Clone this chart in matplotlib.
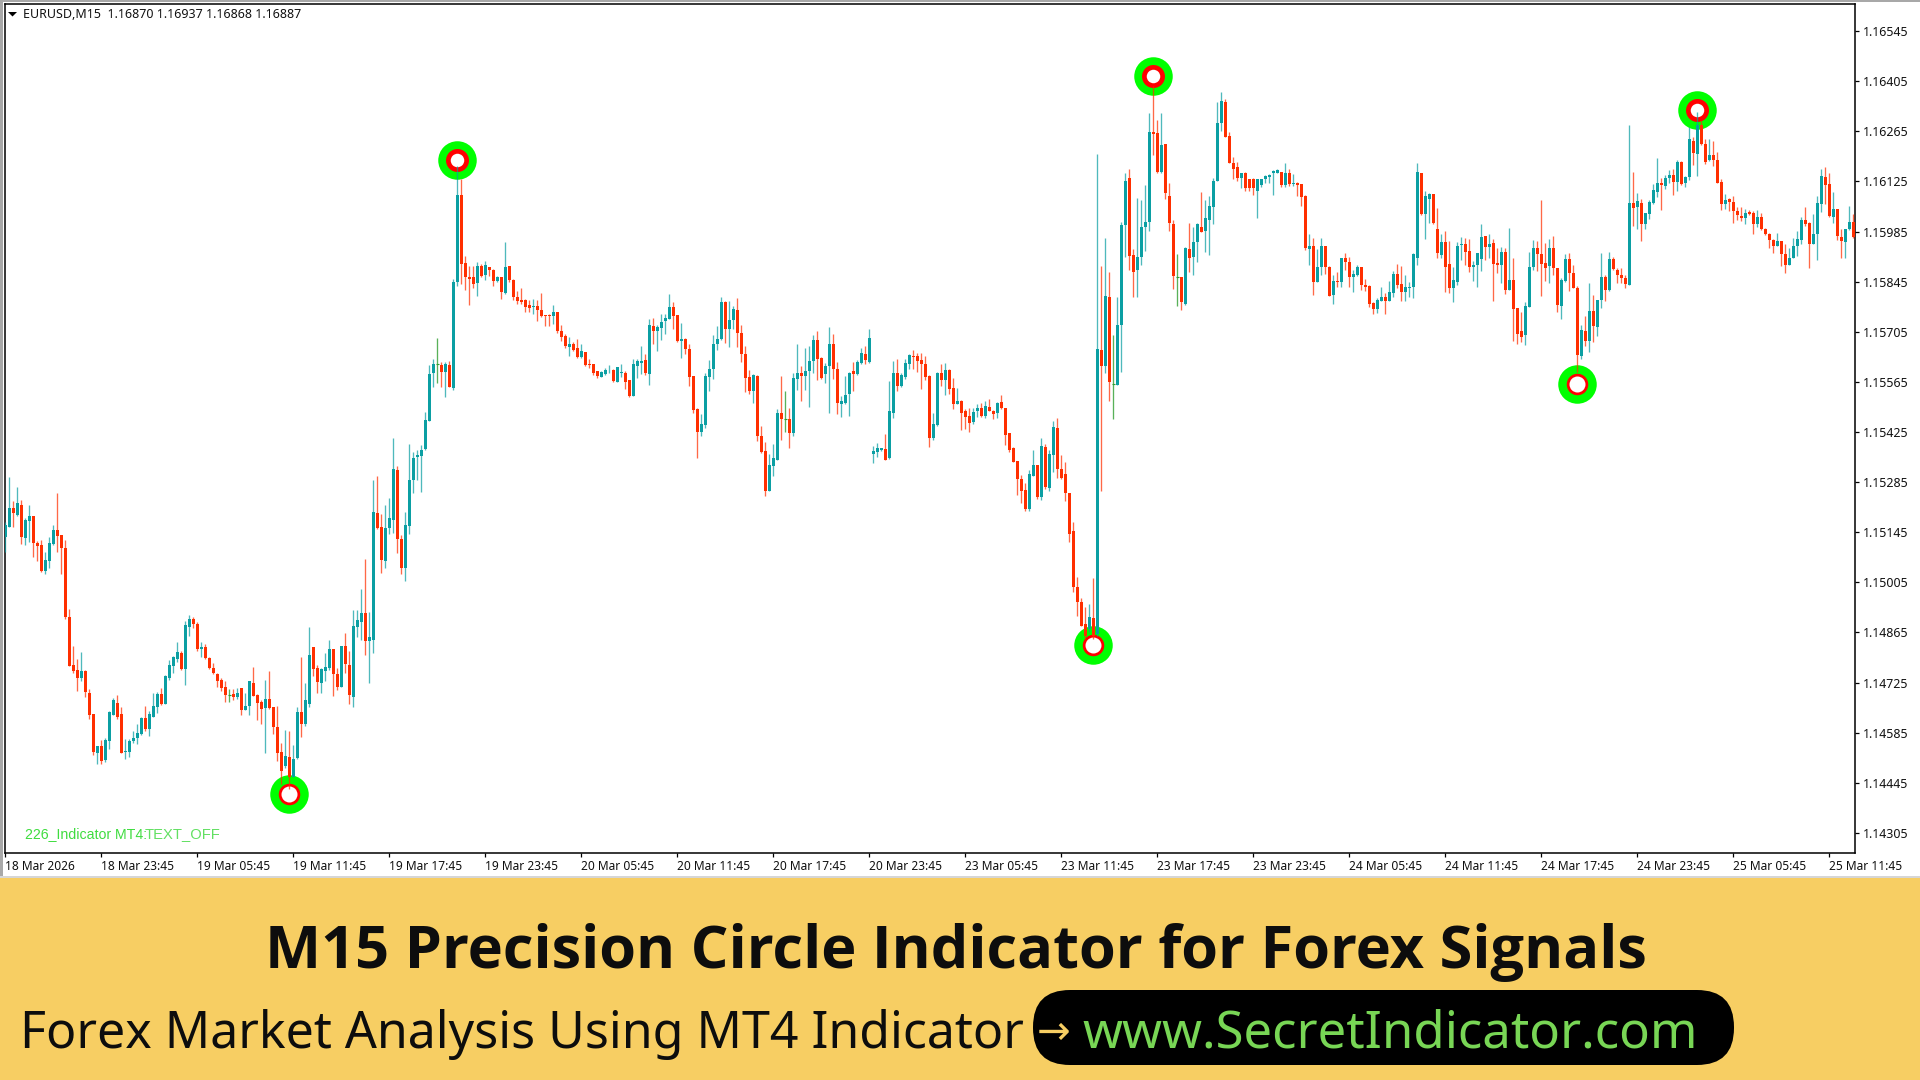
import numpy as np
import matplotlib
matplotlib.use('Agg')
import matplotlib.pyplot as plt
from matplotlib.patches import Rectangle, FancyBboxPatch, Polygon

# EURUSD M15 bars, prices in points (1e-5)
opens = [
    115131,115159,115214,115192,115221,115128,115176,115189,115116,115108,
    115038,115066,115113,115150,115136,115102,114908,114774,114760,114739,
    114758,114696,114637,114527,114547,114508,114562,114635,114668,114637,
    114532,114532,114561,114569,114582,114626,114596,114630,114658,114693,
    114666,114739,114772,114791,114808,114762,114881,114903,114889,114820,
    114824,114794,114767,114749,114732,114712,114689,114693,114686,114709,
    114649,114660,114725,114690,114672,114655,114679,114657,114602,114530,
    114493,114516,114460,114513,114642,114609,114665,
    114824,114766,114724,114757,114767,114819,114748,114714,114827,114775,
    114684,114880,114894,114920,114841,114845,115198,115160,115064,115157,
    115179,115318,115126,115045,115162,115290,115355,115359,115378,115457,
    115589,115614,115611,115593,115613,115548,115844,116087,115898,115859,
    115859,115840,115890,115863,115885,115878,115847,115857,115814,115888,
    115851,115801,115794,115794,115779,115774,115776,115766,115751,115751,
    115749,115759,115707,115693,115663,115671,115660,115635,115649,115615,
    115615,115595,115580,115588,115597,115599,115566,
    115590,115590,115569,115526,115610,115617,115627,115588,115722,115707,
    115716,115736,115742,115775,115751,115678,115686,115656,115581,115490,
    115425,115446,115579,115600,115670,115684,115789,115714,115737,115765,
    115702,115644,115579,115539,115582,115413,115371,115260,115331,115347,
    115478,115460,115461,115423,115573,115589,115582,115596,115624,115681,
    115632,115588,115610,115671,115600,115504,115507,115530,115595,115586,
    115619,115643,115621,115364,115369,115376,115377,115353,115479,115590,
    115554,115578,115616,115638,115638,115626,115616,115582,
    115407,115444,115590,115569,115598,115548,115504,115512,115483,115470,
    115453,115484,115491,115470,115496,115483,115477,115509,115492,115421,
    115379,115343,115294,115263,115211,115302,115332,115243,115383,115269,
    115360,115436,115322,115307,115255,115149,114993,114951,114889,114875,
    114906,114861,115655,115610,115802,115558,115557,115723,116003,116136,
    115919,115877,115913,115997,116013,116263,116261,116152,116229,116085,
    116005,115857,115857,115784,115936,115913,115955,115998,115986,116017,
    116054,116127,116287,116348,116253,116178,116166,116134,116148,116131,
    116131,116098,116115,116131,116137,116148,116150,116152,116115,
    116150,116119,116121,116117,116085,115935,115945,115843,115885,115945,
    115886,115807,115846,115844,115912,115899,115859,115863,115886,115835,
    115833,115786,115770,115792,115802,115792,115813,115867,115839,115815,
    115826,115829,115910,116149,116033,116077,116089,115993,115919,115956,
    115895,115826,115843,115947,115951,115931,115887,115893,115908,115973,
    115941,115953,115898,115891,115928,115821,115849,115772,115707,115695,
    115775,115886,115940,115921,115896,115889,
    115939,115883,115776,115846,115908,115869,115828,115636,115708,115678,
    115763,115719,115794,115858,115821,115909,115878,115863,115855,115837,
    116065,116053,116065,116006,116034,116066,116095,116121,116112,116135,
    116143,116124,116180,116120,116137,116238,116202,116282,116230,116184,
    116198,116185,116124,116061,116076,116068,116043,116029,116024,116040,
    116037,116005,116026,115993,115979,115961,115946,115959,115922,115893,
    115911,115944,115961,116017,116009,115951,115979,116063,116138,116118,
    116025,116047,115970,115957,115991,116011,
]
highs = [
    115175,115299,115233,115271,115236,115184,115222,115189,115121,115122,
    115091,115132,115166,115254,115137,115122,114931,114828,114791,114811,
    114760,114707,114637,114548,114565,114571,114645,114683,114690,114657,
    114567,114567,114590,114608,114630,114659,114646,114696,114698,114710,
    114747,114789,114800,114839,114814,114898,114915,114907,114895,114837,
    114834,114797,114780,114752,114737,114729,114707,114707,114711,114711,
    114696,114729,114769,114692,114676,114733,114756,114658,114660,114556,
    114592,114590,114550,114658,114797,114724,114881,
    114824,114773,114765,114809,114845,114820,114765,114827,114863,114814,
    114927,114927,114986,115069,114923,115292,115303,115195,115221,115240,
    115407,115331,115137,115202,115392,115369,115376,115389,115481,115613,
    115630,115687,115621,115622,115624,115852,116167,116133,115918,115889,
    115889,115901,115895,115904,115887,115880,115861,115857,115956,115890,
    115852,115820,115826,115796,115794,115796,115794,115813,115751,115754,
    115779,115760,115725,115698,115691,115677,115684,115670,115649,115630,
    115616,115596,115596,115605,115611,115602,115607,
    115614,115596,115571,115628,115628,115666,115642,115740,115744,115724,
    115755,115756,115812,115787,115753,115730,115688,115672,115582,115492,
    115474,115590,115627,115697,115722,115803,115791,115792,115778,115800,
    115725,115664,115599,115588,115584,115441,115397,115363,115392,115488,
    115582,115540,115492,115590,115670,115610,115660,115666,115697,115708,
    115635,115619,115719,115700,115621,115526,115582,115593,115621,115626,
    115660,115666,115712,115385,115394,115381,115420,115568,115623,115629,
    115590,115628,115644,115653,115647,115647,115638,115584,
    115477,115593,115614,115618,115600,115576,115548,115514,115488,115492,
    115492,115502,115507,115513,115518,115487,115509,115529,115492,115423,
    115383,115343,115306,115283,115320,115375,115332,115407,115391,115375,
    115455,115464,115360,115341,115256,115174,115020,114962,114936,114945,
    115018,116201,115890,115966,115873,115695,115801,116013,116148,116159,
    115936,116080,116072,116114,116315,116391,116296,116315,116229,116122,
    116017,115923,115857,115941,116010,115999,116010,116096,116072,116085,
    116135,116348,116376,116355,116264,116194,116180,116150,116152,116133,
    116135,116133,116133,116143,116146,116157,116160,116152,116178,
    116161,116145,116124,116119,116087,115977,115966,115935,115966,115945,
    115888,115865,115871,115912,115926,115914,115878,115893,115886,115852,
    115835,115789,115800,115830,115814,115846,115876,115895,115889,115865,
    115844,115926,116178,116150,116099,116092,116089,116050,115977,115988,
    115958,115886,115956,115969,115966,115963,115904,115926,116007,115973,
    115977,115963,115940,115941,115940,115995,115910,115772,115759,115787,
    115928,115962,115958,116072,115954,115964,
    115973,115884,115855,115923,115925,115893,115833,115725,115749,115842,
    115807,115794,115925,115863,115928,115914,115882,115883,115865,116284,
    116152,116094,116075,116038,116073,116117,116191,116135,116143,116157,
    116161,116184,116182,116141,116278,116250,116320,116294,116245,116245,
    116238,116206,116131,116090,116079,116085,116054,116054,116049,116046,
    116042,116044,116037,115995,115981,115963,115982,115959,115949,115939,
    115967,115986,116026,116054,116012,116035,116085,116161,116166,116150,
    116096,116049,115991,115993,116057,116035,
]
lows = [
    115091,115159,115159,115189,115112,115110,115117,115077,115066,115033,
    115027,115044,115110,115089,115029,114903,114770,114752,114702,114730,
    114685,114623,114522,114497,114497,114502,114539,114634,114623,114527,
    114511,114516,114556,114553,114579,114589,114576,114628,114640,114662,
    114666,114733,114752,114783,114761,114718,114856,114878,114814,114796,
    114791,114763,114748,114712,114702,114670,114671,114677,114679,114634,
    114649,114634,114688,114621,114609,114528,114651,114581,114507,114441,
    114486,114427,114460,114511,114572,114604,114656,
    114742,114695,114695,114729,114760,114688,114704,114712,114753,114665,
    114658,114852,114845,114803,114724,114809,115154,115031,115044,115141,
    115143,115087,115029,115010,115141,115255,115290,115257,115376,115456,
    115550,115561,115550,115523,115551,115542,115834,115839,115822,115781,
    115828,115805,115859,115850,115861,115832,115844,115797,115812,115845,
    115795,115783,115783,115760,115760,115756,115736,115747,115722,115720,
    115727,115702,115678,115660,115638,115652,115631,115631,115609,115604,
    115585,115577,115578,115584,115590,115564,115565,
    115579,115546,115524,115526,115576,115587,115584,115557,115672,115652,
    115681,115699,115740,115714,115677,115632,115642,115554,115479,115353,
    115413,115435,115540,115574,115654,115682,115674,115663,115712,115662,
    115621,115537,115532,115506,115399,115366,115246,115260,115302,115347,
    115403,115425,115381,115414,115543,115512,115543,115496,115591,115570,
    115574,115563,115478,115574,115476,115467,115504,115470,115539,115584,
    115614,115614,115617,115339,115355,115372,115346,115351,115463,115541,
    115551,115574,115600,115602,115593,115546,115570,115383,
    115402,115442,115554,115528,115530,115490,115504,115430,115433,115425,
    115448,115468,115467,115464,115483,115461,115464,115489,115390,115369,
    115340,115248,115228,115203,115204,115302,115239,115234,115267,115260,
    115313,115297,115293,115232,115118,114979,114911,114883,114847,114866,
    114847,114855,115261,115591,115513,115462,115557,115594,115915,115877,
    115803,115803,115891,115930,115986,116199,116150,116148,116076,115986,
    115824,115776,115765,115781,115873,115865,115901,115983,115929,115919,
    116005,116127,116266,116250,116176,116131,116126,116106,116098,116098,
    116087,116024,116110,116122,116122,116087,116150,116110,116110,
    116112,116113,116085,116057,115934,115893,115809,115843,115865,115867,
    115804,115784,115829,115831,115878,115830,115815,115861,115822,115820,
    115774,115755,115757,115790,115755,115791,115802,115826,115790,115790,
    115802,115800,115893,116031,115963,116009,116005,115910,115912,115816,
    115814,115787,115837,115907,115893,115871,115846,115830,115876,115905,
    115912,115790,115868,115841,115812,115821,115680,115672,115677,115667,
    115775,115877,115875,115805,115846,115840,
    115865,115759,115742,115844,115818,115826,115593,115628,115665,115649,
    115677,115693,115772,115790,115819,115877,115840,115842,115828,115837,
    116001,115993,115960,115993,116019,116062,116081,116045,116103,116122,
    116087,116098,116116,116110,116128,116170,116141,116228,116175,116182,
    116169,116120,116045,116047,116042,116010,116017,116015,116005,116031,
    115979,115997,115989,115975,115939,115924,115945,115889,115870,115891,
    115910,115917,115951,116001,115884,115951,115906,116040,116063,116025,
    116010,115961,115912,115912,115990,115968,
]
closes = [
    115165,115214,115198,115228,115131,115178,115189,115115,115106,115038,
    115068,115116,115152,115134,115100,114909,114772,114758,114739,114757,
    114698,114635,114530,114547,114507,114564,114643,114676,114628,114529,
    114533,114561,114569,114584,114627,114595,114637,114659,114693,114666,
    114743,114774,114797,114810,114762,114886,114903,114890,114819,114824,
    114793,114765,114751,114728,114711,114691,114689,114685,114696,114649,
    114659,114729,114688,114668,114652,114679,114653,114602,114527,114479,
    114519,114460,114511,114642,114610,114676,114802,
    114762,114726,114762,114769,114820,114749,114714,114827,114776,114691,
    114882,114901,114918,114842,114852,115201,115157,115067,115158,115186,
    115322,115127,115045,115164,115290,115352,115360,115376,115458,115588,
    115614,115614,115593,115616,115551,115844,116087,115895,115859,115853,
    115839,115890,115861,115892,115879,115848,115858,115816,115887,115850,
    115801,115791,115788,115775,115772,115776,115766,115749,115750,115750,
    115759,115707,115691,115664,115670,115655,115634,115651,115613,115613,
    115589,115581,115593,115598,115599,115568,115606,
    115592,115565,115526,115614,115623,115623,115589,115724,115707,115719,
    115733,115744,115775,115749,115679,115685,115658,115579,115486,115425,
    115447,115582,115600,115671,115685,115789,115714,115738,115768,115702,
    115644,115577,115539,115583,115413,115369,115260,115332,115353,115478,
    115460,115460,115423,115576,115590,115582,115595,115624,115683,115628,
    115576,115610,115671,115600,115506,115511,115529,115590,115586,115621,
    115646,115627,115688,115372,115381,115381,115348,115483,115590,115553,
    115585,115618,115641,115635,115623,115615,115578,115409,
    115447,115590,115569,115599,115545,115504,115513,115479,115467,115451,
    115481,115492,115470,115498,115485,115474,115507,115492,115418,115374,
    115341,115294,115261,115211,115308,115332,115244,115386,115271,115363,
    115439,115323,115297,115256,115141,114992,114950,114884,114856,114909,
    114856,115656,115610,115806,115566,115558,115723,116002,116126,115918,
    115873,115913,115999,116013,116264,116257,116152,116227,116094,116008,
    115861,115857,115789,115938,115910,115955,116006,115983,116022,116057,
    116127,116287,116351,116250,116176,116161,116134,116148,116106,116106,
    116106,116131,116131,116140,116143,116154,116157,116115,116149,
    116119,116121,116115,116081,115938,115945,115843,115886,115945,115885,
    115805,115847,115844,115910,115899,115859,115866,115886,115837,115831,
    115784,115770,115794,115802,115792,115816,115866,115837,115816,115830,
    115830,115921,116152,116033,116085,116089,116008,115924,115956,115885,
    115826,115850,115945,115951,115929,115887,115893,115924,115971,115941,
    115951,115894,115891,115928,115821,115849,115770,115700,115691,115777,
    115886,115940,115922,115894,115884,115940,
    115882,115779,115850,115909,115869,115828,115639,115710,115680,115763,
    115720,115794,115858,115823,115909,115880,115863,115856,115838,116065,
    116051,116071,116007,116036,116068,116102,116121,116114,116135,116143,
    116124,116180,116118,116138,116243,116204,116282,116231,116180,116198,
    116184,116120,116061,116074,116068,116042,116031,116024,116037,116035,
    116006,116026,115992,115977,115961,115946,115958,115922,115893,115911,
    115945,115965,116018,116006,115951,115977,116065,116141,116116,116028,
    116047,115972,115960,115992,116012,115971,
]

# circles from the indicator
sell_bars = [113, 287, 423]
sell_prices = [1.16184, 1.16420, 1.16325]
buy_bars = [71, 272, 393]
buy_prices = [1.14414, 1.14830, 1.15558]

price_ticks = [1.14305, 1.14445, 1.14585, 1.14725, 1.14865, 1.15005, 1.15145, 1.15285, 1.15425,
               1.15565, 1.15705, 1.15845, 1.15985, 1.16125, 1.16265, 1.16405, 1.16545]
time_labels = ['18 Mar 2026', '18 Mar 23:45', '19 Mar 05:45', '19 Mar 11:45', '19 Mar 17:45',
               '19 Mar 23:45', '20 Mar 05:45', '20 Mar 11:45', '20 Mar 17:45', '20 Mar 23:45',
               '23 Mar 05:45', '23 Mar 11:45', '23 Mar 17:45', '23 Mar 23:45', '24 Mar 05:45',
               '24 Mar 11:45', '24 Mar 17:45', '24 Mar 23:45', '25 Mar 05:45', '25 Mar 11:45']
bars_per_label = 24

title = 'M15 Precision Circle Indicator for Forex Signals'
subtitle = 'Forex Market Analysis Using MT4 Indicator'
site = 'www.SecretIndicator.com'
header = 'EURUSD,M15  1.16870 1.16937 1.16868 1.16887'

UP = '#0b9fa3'
DOWN = '#ff2f00'
DOJI = '#2f9e2f'
BAND = '#f7ce63'

plt.rcParams['font.family'] = ['Noto Sans', 'DejaVu Sans']

W, H = 1920, 1080
fig = plt.figure(figsize=(W / 100, H / 100), dpi=100, facecolor='white')

# page in pixel coords for the frame and the banner
page = fig.add_axes([0, 0, 1, 1], zorder=0)
page.set_xlim(0, W)
page.set_ylim(H, 0)
page.axis('off')
page.add_patch(Rectangle((0, 0), W, 2, color='#a8a8a8', lw=0))
page.add_patch(Rectangle((0, 0), 2.5, 876, color='#a8a8a8', lw=0))
page.add_patch(Rectangle((0, 876), W, 2, color='#d6d6d6', lw=0))
page.add_patch(Rectangle((0, 878), W, H - 878, color=BAND, lw=0))
page.add_patch(FancyBboxPatch((1033, 990), 701, 75, boxstyle='round,pad=0,rounding_size=37',
                              fc='black', ec='black', lw=0))
page.text(956, 968, title, ha='center', va='baseline', fontsize=42.8, color='#0d0d0d',
          family='Open Sans', fontweight='bold')
page.text(20, 1048, subtitle, ha='left', va='baseline', fontsize=36.1, color='#0d0d0d')
page.text(1082, 1048, site, ha='left', va='baseline', fontsize=36.7, color='#78d655')
page.text(1037, 1044, '\u2192', ha='left', va='baseline', fontsize=29, color=BAND, family='DejaVu Sans')

# price chart
left, right, top, bottom = 4.7, 1855.3, 4.3, 853.3
ax = fig.add_axes([left / W, 1 - bottom / H, (right - left) / W, (bottom - top) / H], zorder=1)
ax.set_facecolor('white')

o = np.array(opens) / 1e5
h = np.array(highs) / 1e5
l = np.array(lows) / 1e5
c = np.array(closes) / 1e5
x = np.arange(len(o))

ax.set_xlim(-0.16, 462.5)
ax.set_ylim(1.14248, 1.16620)

# circles go under the candles
def circles(bars, prices, red_d, white_d):
    for d, col in [(38.5, '#00ff00'), (red_d, '#ff0000'), (white_d, 'white')]:
        ax.scatter(bars, prices, s=(d * 0.72) ** 2, color=col, linewidths=0, zorder=2)

circles(sell_bars, sell_prices, 23, 13.5)
circles(buy_bars, buy_prices, 21.5, 16)

up = c > o
down = c < o
doji = c == o
ax.vlines(x[up], l[up], h[up], color=UP, lw=0.95, alpha=0.72, zorder=3)
ax.vlines(x[down], l[down], h[down], color=DOWN, lw=0.95, alpha=0.72, zorder=3)
ax.vlines(x[doji], l[doji], h[doji], color=DOJI, lw=0.95, alpha=0.8, zorder=3)
ax.hlines(c[doji], x[doji] - 0.4, x[doji] + 0.4, color=DOJI, lw=0.8, zorder=3)
ax.bar(x[up], (c - o)[up], bottom=o[up], width=0.72, color=UP, linewidth=0, zorder=4)
ax.bar(x[down], (o - c)[down], bottom=c[down], width=0.72, color=DOWN, linewidth=0, zorder=4)

for s in ax.spines.values():
    s.set_linewidth(1.1)
    s.set_color('black')

ax.yaxis.tick_right()
ax.set_yticks(price_ticks)
ax.set_yticklabels([f'{p:.5f}' for p in price_ticks])
ax.tick_params(axis='y', length=3, width=0.9, pad=2.5, labelsize=8.9, labelcolor='#111111')
ax.set_xticks(np.arange(len(time_labels)) * bars_per_label)
ax.set_xticklabels(time_labels, ha='left')
ax.tick_params(axis='x', length=3, width=0.9, pad=1.5, labelsize=8.6, labelcolor='#111111')

# header and indicator labels, placed in pixels on top
over = fig.add_axes([0, 0, 1, 1], zorder=2)
over.set_xlim(0, W)
over.set_ylim(H, 0)
over.axis('off')
over.patch.set_alpha(0)
over.add_patch(Polygon([[8, 12], [17, 12], [12.5, 16.5]], closed=True, color='black', lw=0))
over.text(23, 14.5, header, ha='left', va='center', fontsize=8.95, color='#111111')
over.text(25, 834, '226_Indicator MT4:', ha='left', va='center', fontsize=10.2, color='#3fdc3f',
          family='Liberation Sans')
over.text(145, 834, 'TEXT_OFF', ha='left', va='center', fontsize=10.6, color='#62e062',
          family='Liberation Sans')

fig.savefig('out.png', dpi=100)
